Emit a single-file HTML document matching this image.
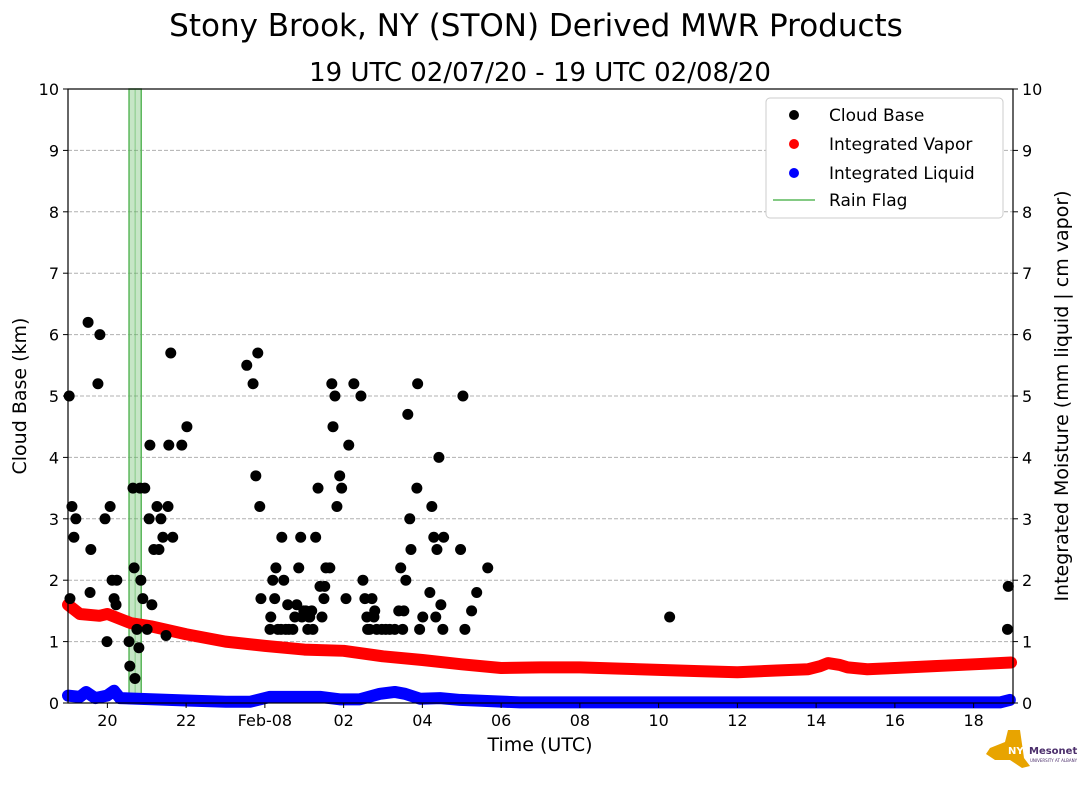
<!DOCTYPE html>
<html><head><meta charset="utf-8"><style>
body{margin:0;background:#fff;font-family:"DejaVu Sans","Liberation Sans",sans-serif}
svg text{font-family:"DejaVu Sans","Liberation Sans",sans-serif}
</style></head><body>
<svg id="c" width="1089" height="804" xmlns="http://www.w3.org/2000/svg">
<rect width="1089" height="804" fill="#fff"/>
<text x="536" y="36" font-size="31" text-anchor="middle">Stony Brook, NY (STON) Derived MWR Products</text>
<text x="540" y="81" font-size="26" text-anchor="middle">19 UTC 02/07/20 - 19 UTC 02/08/20</text>
<g id="grid"></g><g id="rain"></g><g id="marks"></g><g id="axes"></g>
<text transform="translate(26,396) rotate(-90)" font-size="19" text-anchor="middle">Cloud Base (km)</text>
<text transform="translate(1068,396) rotate(-90)" font-size="19" text-anchor="middle">Integrated Moisture (mm liquid | cm vapor)</text>
<text x="540" y="751" font-size="19" text-anchor="middle">Time (UTC)</text>
<g>
<rect x="766" y="98" width="237" height="120" rx="4" fill="#fff" stroke="#ccc"/>
<circle cx="794" cy="115" r="5" fill="#000"/><text x="829" y="121" font-size="17">Cloud Base</text>
<circle cx="794" cy="144" r="5" fill="red"/><text x="829" y="150" font-size="17">Integrated Vapor</text>
<circle cx="794" cy="173" r="5" fill="blue"/><text x="829" y="179" font-size="17">Integrated Liquid</text>
<line x1="773" y1="200" x2="815" y2="200" stroke="#5cb85c" stroke-width="1.5"/><text x="829" y="206" font-size="17">Rain Flag</text>
</g>
<g>
<path d="M990 748 L1005 742 L1008 730 L1020 730 L1024 758 L1030 766 L1022 768 L1010 760 L995 760 L986 754 Z" fill="#e8a400"/>
<text x="1008" y="754" font-size="10" font-weight="bold" fill="#fff">NYS</text>
<text x="1029" y="754" font-size="10" font-weight="bold" fill="#4b2e6b">Mesonet</text>
<text x="1030" y="762" font-size="4" fill="#4b2e6b">UNIVERSITY AT ALBANY</text>
</g>
</svg>
<script>
const cbHours=[0.03,.05,.10,.15,.20,.51,.56,.58,.76,.81,.94,.99,1.07,1.12,1.17,1.22,1.24,1.55,1.57,1.65,1.68,1.70,1.75,1.80,1.83,1.85,1.90,1.95,2.01,2.06,2.08,2.13,2.18,2.26,2.31,2.36,2.41,2.49,2.54,2.56,2.61,2.66,2.89,3.02,4.54,4.70,4.82,4.77,4.87,4.90,5.13,5.15,5.20,5.25,5.28,5.33,5.41,5.43,5.48,5.53,5.58,5.61,5.71,5.76,5.81,5.86,5.91,5.94,5.99,6.04,6.09,6.12,6.14,6.19,6.22,6.29,6.35,6.40,6.45,6.50,6.52,6.55,6.65,6.70,6.73,6.78,6.83,6.90,6.95,7.06,7.13,7.26,7.44,7.49,7.54,7.59,7.61,7.66,7.72,7.77,7.79,7.84,7.97,8.07,8.17,8.30,8.40,8.45,8.50,8.53,8.58,8.63,8.68,8.71,8.86,8.88,8.93,9.01,9.19,9.24,9.29,9.34,9.37,9.42,9.47,9.52,9.54,9.97,10.03,10.08,10.25,10.38,10.66,15.28,23.86,23.88];
const cbKm=[5.0,1.7,3.2,2.7,3.0,6.2,1.8,2.5,5.2,6.0,3.0,1.0,3.2,2.0,1.7,1.6,2.0,1.0,0.6,3.5,2.2,0.4,1.2,0.9,3.5,2.0,1.7,3.5,1.2,3.0,4.2,1.6,2.5,3.2,2.5,3.0,2.7,1.1,3.2,4.2,5.7,2.7,4.2,4.5,5.5,5.2,5.7,3.7,3.2,1.7,1.2,1.4,2.0,1.7,2.2,1.2,1.2,2.7,2.0,1.2,1.6,1.2,1.2,1.4,1.6,2.2,2.7,1.4,1.5,1.5,1.2,1.4,1.4,1.5,1.2,2.7,3.5,1.9,1.4,1.7,1.9,2.2,2.2,5.2,4.5,5.0,3.2,3.7,3.5,1.7,4.2,5.2,5.0,2.0,1.7,1.4,1.2,1.2,1.7,1.4,1.5,1.2,1.2,1.2,1.2,1.2,1.5,2.2,1.2,1.5,2.0,4.7,3.0,2.5,3.5,5.2,1.2,1.4,1.8,3.2,2.7,1.4,2.5,4.0,1.6,1.2,2.7,2.5,5.0,1.2,1.5,1.8,2.2,1.4,1.2,1.9];
const vapHours=[19.0,19.3,19.8,20.0,20.6,21.1,22,23,24,25,26,27,28,29,30,31,32,33,34,35,36,37,37.8,38.1,38.3,38.6,38.8,39.3,40,41,42,42.95];
const vapVals=[1.6,1.45,1.42,1.45,1.3,1.25,1.12,1.0,0.93,0.87,0.85,0.76,0.7,0.63,0.57,0.58,0.58,0.56,0.54,0.52,0.5,0.53,0.55,0.6,0.65,0.62,0.58,0.55,0.57,0.6,0.63,0.66];
const liqHours=[19,19.3,19.46,19.69,19.99,20.17,20.32,22,23.01,23.62,24.13,24.89,25.4,25.9,26.41,26.92,27.3,27.56,27.94,28.45,28.96,29.72,30.48,42.67,42.92];
const liqVals=[0.12,0.1,0.18,0.08,0.12,0.2,0.08,0.04,0.02,0.02,0.1,0.1,0.1,0.06,0.06,0.15,0.18,0.15,0.07,0.08,0.05,0.03,0.01,0.01,0.05];
const rainStart=[20.55];const rainEnd=[20.86];
const yTicks=[0,1,2,3,4,5,6,7,8,9,10];
const xTickHours=[20,22,24,26,28,30,32,34,36,38,40,42];
const xTickLabels=["20","22","Feb-08","02","04","06","08","10","12","14","16","18"];
const X0=68,X1=1013,Y0=703,Y1=89;
const sx=h=>X0+(h-19)/24*(X1-X0), sy=v=>Y0-v/10*(Y0-Y1);
const NS="http://www.w3.org/2000/svg";
function mk(t,a,p){const e=document.createElementNS(NS,t);for(const k in a)e.setAttribute(k,a[k]);p.appendChild(e);return e;}
const grid=document.getElementById('grid'),axes=document.getElementById('axes'),marks=document.getElementById('marks'),rain=document.getElementById('rain');
yTicks.forEach(v=>{
 if(v>0&&v<10){const g=mk('line',{x1:X0,x2:X1,y1:sy(v),y2:sy(v),stroke:'#b0b0b0','stroke-dasharray':'4,2'},grid);
 
 }
 mk('line',{x1:X0-5,x2:X0,y1:sy(v),y2:sy(v),stroke:'#000'},axes);
 mk('line',{x1:X1,x2:X1+5,y1:sy(v),y2:sy(v),stroke:'#000'},axes);
 const t=mk('text',{x:X0-9,y:sy(v)+6,'font-size':16,'text-anchor':'end'},axes);t.textContent=v;
 
 
 const t2=mk('text',{x:X1+9,y:sy(v)+6,'font-size':16},axes);t2.textContent=v;
 
 
});
xTickHours.forEach((h,i)=>{
 mk('line',{x1:sx(h),x2:sx(h),y1:Y0,y2:Y0+5,stroke:'#000'},axes);
 const t=mk('text',{x:sx(h),y:Y0+23,'font-size':16,'text-anchor':'middle'},axes);t.textContent=xTickLabels[i];
 
 
});
const fr=mk('rect',{x:X0,y:Y1,width:X1-X0,height:Y0-Y1,fill:'none',stroke:'#000','stroke-width':1.2},axes);


rainStart.forEach((s,i)=>{
 const r=mk('rect',{x:sx(s),y:Y1,width:sx(rainEnd[i])-sx(s),height:Y0-Y1,fill:'#5cb85c','fill-opacity':0.35,stroke:'#5cb85c','stroke-width':1.5},rain);
 
 
 mk('line',{x1:(sx(s)+sx(rainEnd[i]))/2,x2:(sx(s)+sx(rainEnd[i]))/2,y1:Y1,y2:Y0,stroke:'#5cb85c','stroke-opacity':0.6},rain);
});
function line(hs,vs,col,name){
 const p=mk('polyline',{points:hs.map((h,i)=>sx(h)+','+sy(vs[i])).join(' '),fill:'none',stroke:col,'stroke-width':12,'stroke-linecap':'round','stroke-linejoin':'round'},marks);
 
 
}
line(vapHours,vapVals,'red','integrated-vapor-series');
line(liqHours,liqVals,'blue','integrated-liquid-series');
cbHours.forEach((d,i)=>{
 const c=mk('circle',{cx:sx(19+d),cy:sy(cbKm[i]),r:5.5,fill:'#000'},marks);
 
 
});
</script>
</body></html>
